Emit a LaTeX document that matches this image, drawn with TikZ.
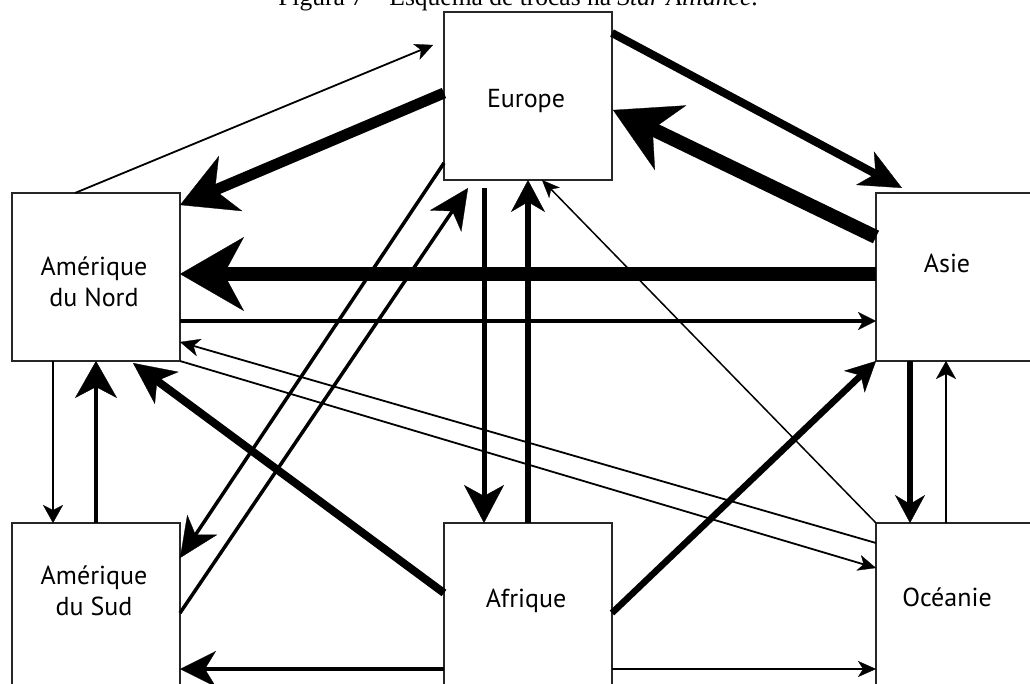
\documentclass[tikz,border=0pt]{standalone}
\usepackage{fontspec}
\setmainfont{Liberation Serif}
\newfontfamily\boxfont{PT Sans}
\usetikzlibrary{arrows.meta,calc}
\tikzset{
  box/.style={draw=black!85, line width=1.5pt, minimum width=168pt, minimum height=168pt, inner sep=0pt, outer sep=0pt},
  lbl/.style={font=\boxfont\fontsize{26}{31}\selectfont, align=center, inner sep=0pt},
  cn/.style n args={4}{line width=#1, -{Stealth[length=#2, width=#3, inset=#4, line width=0.3pt]}},
}
\begin{document}
\begin{tikzpicture}[x=1pt,y=-1pt]
\useasboundingbox (0,0) rectangle (1030,684);
\clip (0,0) rectangle (1030,684);
\node[anchor=base, font=\fontsize{25.5}{30}\selectfont, inner sep=0pt] (cap) at (518,6) {Figura 7 – Esquema de trocas na \textit{Star Alliance}.};
% boxes
\node[box] (eu) at (528,96) {};
\node[box] (an) at (96,277) {};
\node[box] (as) at (960,277) {};
\node[box] (asu) at (96,607) {};
\node[box] (af) at (528,607) {};
\node[box] (oc) at (960,607) {};
% labels
\node[lbl, anchor=base] (euL) at (526,108) {Europe};
\node[lbl] (anL) at (94,282) {Amérique\\du Nord};
\node[lbl, anchor=base] (asL) at (947,273) {Asie};
\node[lbl] (asuL) at (94,591) {Amérique\\du Sud};
\node[lbl, anchor=base] (afL) at (526,607) {Afrique};
\node[lbl, anchor=base] (ocL) at (947,606) {Océanie};
% connectors
\draw[cn={1.8pt}{18pt}{17pt}{5pt}] ($(an.north west)+(63,0)$) -- ($(eu.north west)+(-11,33)$);
\draw[cn={11pt}{55pt}{60pt}{17pt}] ($(eu.north west)+(0,81)$) -- ($(an.north east)+(0,12)$);
\draw[cn={8pt}{42pt}{38pt}{12pt}] ($(eu.north east)+(0,21)$) -- ($(as.north west)+(26,-5)$);
\draw[cn={14pt}{64pt}{72pt}{20pt}] ($(as.north west)+(0,44)$) -- ($(eu.north east)+(1,98)$);
\draw[cn={14pt}{64pt}{74pt}{20pt}] ($(as.west)+(0,-3)$) -- ($(an.east)+(0,-3)$);
\draw[cn={4pt}{18pt}{18pt}{5pt}] ($(an.east)+(0,44)$) -- ($(as.west)+(0,44)$);
\draw[cn={1.8pt}{20pt}{18pt}{6pt}] ($(oc.north west)+(0,20)$) -- ($(an.south east)+(0,-19)$);
\draw[cn={1.8pt}{18pt}{16pt}{5pt}] (an.south east) -- ($(oc.north west)+(0,45)$);
\draw[cn={1.5pt}{18pt}{15pt}{5pt}] (oc.north west) -- ($(eu.south)+(14,0)$);
\draw[cn={5pt}{38pt}{40pt}{11pt}] ($(eu.south)+(-44,8)$) -- ($(af.north)+(-44,0)$);
\draw[cn={6pt}{32pt}{34pt}{10pt}] (af.north) -- (eu.south);
\draw[cn={3.5pt}{40pt}{36pt}{12pt}] ($(eu.south west)+(0,-17)$) -- ($(asu.north east)+(0,35)$);
\draw[cn={3.5pt}{40pt}{38pt}{12pt}] ($(asu.north east)+(0,90)$) -- ($(eu.south)+(-60,8)$);
\draw[cn={8pt}{42pt}{40pt}{12pt}] ($(af.north west)+(0,70)$) -- ($(an.south west)+(121,2)$);
\draw[cn={1.8pt}{18pt}{20pt}{5pt}] ($(an.south west)+(41,0)$) -- ($(asu.north west)+(41,0)$);
\draw[cn={3.5pt}{37pt}{42pt}{11pt}] (asu.north) -- (an.south);
\draw[cn={3.5pt}{36pt}{36pt}{11pt}] ($(af.north west)+(0,146)$) -- ($(asu.north east)+(0,146)$);
\draw[cn={1.8pt}{18pt}{16pt}{5pt}] ($(af.north east)+(0,146)$) -- ($(oc.north west)+(0,146)$);
\draw[cn={6.5pt}{30pt}{30pt}{9pt}] ($(af.north east)+(0,90)$) -- (as.south west);
\draw[cn={5.5pt}{28pt}{30pt}{9pt}] ($(as.south west)+(34,0)$) -- ($(oc.north west)+(34,0)$);
\draw[cn={1.8pt}{18pt}{20pt}{5pt}] ($(oc.north west)+(70,0)$) -- ($(as.south west)+(70,0)$);
\end{tikzpicture}
\end{document}
